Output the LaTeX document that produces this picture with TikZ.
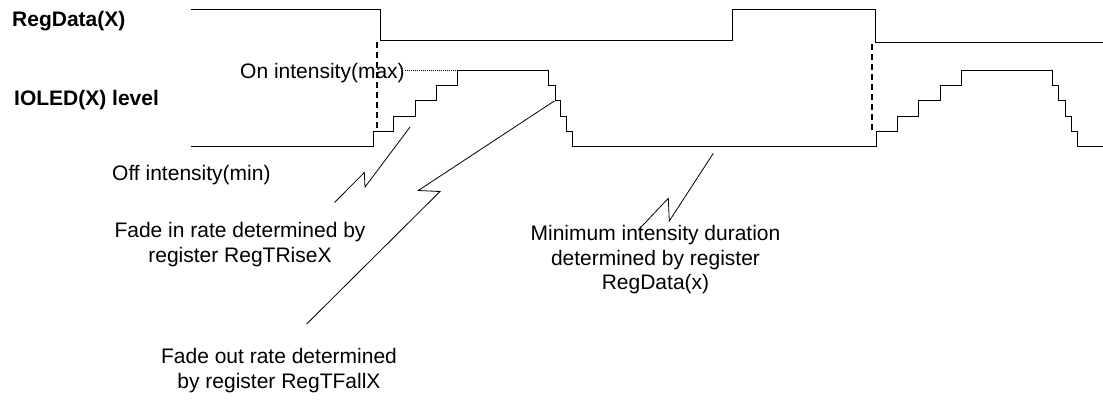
\documentclass[tikz,border=0pt]{standalone}
\usepackage{fontspec}
\setmainfont{Liberation Sans}
\begin{document}
\begin{tikzpicture}[x=1pt,y=-1pt,
  wave/.style={draw=black,line width=1pt,line join=miter},
  syncline/.style={draw=black,line width=2pt,dash pattern=on 6pt off 4pt},
  leader/.style={draw=black,line width=0.8pt},
  guide/.style={draw=black,line width=0.6pt,dash pattern=on 1pt off 1pt},
  lbl/.style={inner sep=0pt,font=\fontsize{21}{25}\selectfont},
  boldlbl/.style={inner sep=0pt,font=\fontsize{21}{25}\selectfont\bfseries}]
\useasboundingbox (0,0) rectangle (1103,399);
% labels
\node[boldlbl,anchor=base west] (regdata) at (12,26) {RegData(X)};
\node[boldlbl,anchor=base west] (ioled) at (14,105.5) {IOLED(X) level};
\node[lbl,anchor=base west] (onmax) at (240,78) {On intensity(max)};
\node[lbl,anchor=base west] (offmin) at (112,180) {Off intensity(min)};
\node[lbl,anchor=base] (fadein1) at (240,237) {Fade in rate determined by};
\node[lbl,anchor=base] (fadein2) at (240,262) {register RegTRiseX};
\node[lbl,anchor=base] (fadeout1) at (279,363.5) {Fade out rate determined};
\node[lbl,anchor=base] (fadeout2) at (279,388) {by register RegTFallX};
\node[lbl,anchor=base] (mindur1) at (655.5,240.5) {Minimum intensity duration};
\node[lbl,anchor=base] (mindur2) at (655.5,265) {determined by register};
\node[lbl,anchor=base] (mindur3) at (655.5,289.5) {RegData(x)};
% RegData waveform
\draw[wave] (191,9.5) -- (380,9.5) -- (380,40) -- (732,40) -- (732,9.5) -- (875,9.5) -- (875,42) -- (1103,42);
% sync dashed lines
\draw[syncline] (376.7,42) -- (376.7,130);
\draw[syncline] (872,44) -- (872,132);
% IOLED waveform
\draw[wave] (191,146) -- (373,146) -- (373,131) -- (393,131) -- (393,116) -- (415,116) -- (415,100.5) -- (436,100.5) -- (436,85.5) -- (457,85.5) -- (457,70.5) -- (548.5,70.5) -- (548.5,85.5) -- (555,85.5) -- (555,100.5) -- (560.5,100.5) -- (560.5,116) -- (566.5,116) -- (566.5,131) -- (572.5,131) -- (572.5,146) -- (876.5,146) -- (876.5,131) -- (897.5,131) -- (897.5,116) -- (918.5,116) -- (918.5,100.5) -- (940,100.5) -- (940,85.5) -- (961,85.5) -- (961,70.5) -- (1052.5,70.5) -- (1052.5,85.5) -- (1058.5,85.5) -- (1058.5,100.5) -- (1065,100.5) -- (1065,116) -- (1071,116) -- (1071,131) -- (1077,131) -- (1077,146) -- (1103,146);
% dotted guide from On intensity label
\coordinate (maxlvl) at (456,70.5);
\draw[guide] (onmax.east |- maxlvl) -- (maxlvl);
% lightning leaders
\coordinate (l1a) at (410,127);
\coordinate (l1b) at (334.5,202.5);
\draw[leader] (l1a) -- (365,187) -- (364.3,172.5) -- (l1b);
\coordinate (l2a) at (554.3,101);
\coordinate (l2b) at (306.7,324);
\draw[leader] (l2a) -- (418.3,190.5) -- (440,191.5) -- (l2b);
\coordinate (l3a) at (713.3,153.3);
\coordinate (l3b) at (638.3,230);
\draw[leader] (l3a) -- (669.3,221) -- (668.3,198.3) -- (l3b);
\end{tikzpicture}
\end{document}
